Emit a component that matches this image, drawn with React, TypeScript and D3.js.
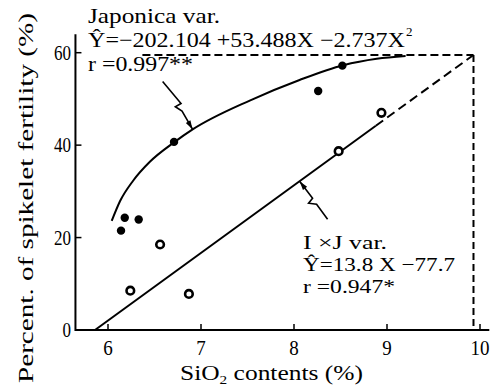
import * as d3 from "d3";

const xTicks = [6, 7, 8, 9, 10];
const yTicks = [0, 20, 40, 60];

// Japonica var. (filled dots)
const japX = [6.14, 6.18, 6.33, 6.71, 8.26, 8.52];
const japY = [21.5, 24.3, 23.9, 40.7, 51.7, 57.2];

// I x J var. (open circles)
const ijX = [6.24, 6.56, 6.87, 8.48, 8.94];
const ijY = [8.5, 18.5, 7.8, 38.7, 47.0];

// the quadratic curve as it is drawn in the figure
const japCurveX = [6.04, 6.13, 6.27, 6.45, 6.71, 6.91, 7.53, 8.06, 8.53, 8.89, 9.2];
const japCurveY = [23.6, 27.9, 32.3, 36.4, 40.6, 43.4, 49.7, 54.1, 57.3, 58.7, 59.3];

// regression line: solid part then dashed extrapolation
const ijLineX = [5.86, 8.88, 9.93];
const ijLineY = [0, 44.2, 59.5];

// dashed guide at the meeting point
const guideX = [6.37, 9.93];
const guideY = 59.5;

const FONT = "'Liberation Serif', 'DejaVu Serif', serif";

const Arrow = ({ tip, pts }) => {
  // pts are offsets from the tip, from tail to the one before the tip
  const abs = pts.map(([dx, dy]) => [tip[0] + dx, tip[1] + dy]);
  const all = [...abs, tip];
  const last = abs[abs.length - 1];
  const ang = Math.atan2(tip[1] - last[1], tip[0] - last[0]);
  const len = 9;
  const half = 2.6;
  const bx = tip[0] - len * Math.cos(ang);
  const by = tip[1] - len * Math.sin(ang);
  const head = [
    tip,
    [bx + half * Math.sin(ang), by - half * Math.cos(ang)],
    [bx - half * Math.sin(ang), by + half * Math.cos(ang)],
  ];
  return (
    <g>
      <path d={d3.line()(all)} fill="none" stroke="#000" strokeWidth={1.6} />
      <path d={d3.line()(head) + "Z"} fill="#000" />
    </g>
  );
};

export default function App() {
  const x = d3.scaleLinear().domain([6, 10]).range([108, 480]);
  const y = d3.scaleLinear().domain([0, 60]).range([330, 52.7]);

  const curvePts = japCurveX.map((v, i) => [v, japCurveY[i]]);
  const curvePath = d3
    .line()
    .x((d) => x(d[0]))
    .y((d) => y(d[1]))
    .curve(d3.curveMonotoneX)(curvePts);
  const straight = d3
    .line()
    .x((d) => x(d[0]))
    .y((d) => y(d[1]));

  const solidLine = straight([
    [ijLineX[0], ijLineY[0]],
    [ijLineX[1], ijLineY[1]],
  ]);
  const dashedLine = straight([
    [ijLineX[1], ijLineY[1]],
    [ijLineX[2], ijLineY[2]],
  ]);

  const x0 = x(5.65);
  const x1 = x(10.1);
  const y0 = y(0);
  const yTop = y(64);

  const japTip = [x(6.91), y(43.4)];
  const ijTip = [x(8.06), y(32.2)];

  return (
    <svg
      width={493}
      height={390}
      style={{ position: "absolute", left: 0, top: 0, background: "#fff" }}
      fontFamily={FONT}
    >
      <rect width={493} height={390} fill="#fff" />

      {/* axes */}
      <line x1={x0} x2={x1} y1={y0} y2={y0} stroke="#000" strokeWidth={2} />
      <line x1={x0} x2={x0} y1={y0 + 1} y2={yTop} stroke="#000" strokeWidth={2} />
      {xTicks.map((t) => (
        <g key={"xt" + t}>
          <line x1={x(t)} x2={x(t)} y1={y0} y2={y0 - 6} stroke="#000" strokeWidth={1.5} />
          <text
            x={x(t)}
            y={355}
            fontSize={21}
            textAnchor="middle"
            textLength={String(t).length * 9.5}
            lengthAdjust="spacingAndGlyphs"
          >
            {t}
          </text>
        </g>
      ))}
      {yTicks.map((t) => (
        <g key={"yt" + t}>
          {t > 0 && (
            <line x1={x0} x2={x0 + 6} y1={y(t)} y2={y(t)} stroke="#000" strokeWidth={1.5} />
          )}
          <text
            x={71}
            y={y(t) + 7}
            fontSize={21}
            textAnchor="end"
            textLength={String(t).length * 8.5}
            lengthAdjust="spacingAndGlyphs"
          >
            {t}
          </text>
        </g>
      ))}

      {/* axis titles */}
      <text x={180} y={380} fontSize={20} textLength={183} lengthAdjust="spacingAndGlyphs">
        SiO<tspan fontSize={12} dy={4}>2</tspan>
        <tspan dy={-4}> contents (%)</tspan>
      </text>
      <text
        transform={`translate(33,383) rotate(-90)`}
        fontSize={21}
        textLength={370}
        lengthAdjust="spacingAndGlyphs"
      >
        Percent.  of  spikelet  fertility (%)
      </text>

      {/* guides */}
      <line
        x1={x(guideX[0])}
        x2={x(guideX[1])}
        y1={y(guideY)}
        y2={y(guideY)}
        stroke="#000"
        strokeWidth={2}
        strokeDasharray="8 4"
      />
      <line
        x1={x(guideX[1])}
        x2={x(guideX[1])}
        y1={y(guideY)}
        y2={y0}
        stroke="#000"
        strokeWidth={2}
        strokeDasharray="7 4"
      />

      {/* fitted lines */}
      <path d={curvePath} fill="none" stroke="#000" strokeWidth={2} />
      <path d={solidLine} fill="none" stroke="#000" strokeWidth={2} />
      <path d={dashedLine} fill="none" stroke="#000" strokeWidth={2} strokeDasharray="9 5" />

      {/* points */}
      {japX.map((v, i) => (
        <circle key={"j" + i} cx={x(v)} cy={y(japY[i])} r={4.2} fill="#000" />
      ))}
      {ijX.map((v, i) => (
        <circle
          key={"o" + i}
          cx={x(v)}
          cy={y(ijY[i])}
          r={3.8}
          fill="#fff"
          stroke="#000"
          strokeWidth={2.6}
        />
      ))}

      {/* arrows */}
      <Arrow
        tip={japTip}
        pts={[
          [-30, -48],
          [-11.6, -26],
          [-17.3, -22.7],
          [-10.6, -18.3],
        ]}
      />
      <Arrow
        tip={ijTip}
        pts={[
          [28, 38],
          [17, 23],
          [9, 22],
          [13, 17],
        ]}
      />

      {/* Japonica labels */}
      <text x={88} y={23} fontSize={21} textLength={132} lengthAdjust="spacingAndGlyphs">
        Japonica  var.
      </text>
      <text x={88} y={47} fontSize={21} textLength={317} lengthAdjust="spacingAndGlyphs">
        Ŷ=−202.104 +53.488X −2.737X
      </text>
      <text x={406} y={36} fontSize={13}>
        2
      </text>
      <text x={88} y={71} fontSize={21} textLength={105} lengthAdjust="spacingAndGlyphs">
        r =0.997**
      </text>

      {/* I x J labels */}
      <text x={303} y={249} fontSize={19} textLength={84} lengthAdjust="spacingAndGlyphs">
        I ×J  var.
      </text>
      <text x={303} y={271} fontSize={19} textLength={152} lengthAdjust="spacingAndGlyphs">
        Ŷ=13.8 X −77.7
      </text>
      <text x={303} y={293} fontSize={19} textLength={92} lengthAdjust="spacingAndGlyphs">
        r =0.947*
      </text>
    </svg>
  );
}
